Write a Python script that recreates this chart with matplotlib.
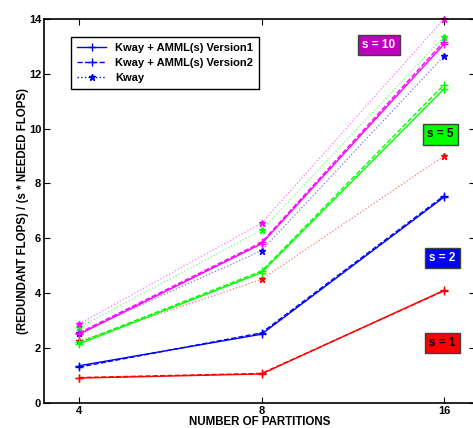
import matplotlib
matplotlib.use('Agg')
from matplotlib import pyplot as plt

plt.rcParams['font.family'] = ['Liberation Sans', 'DejaVu Sans']
plt.rcParams['font.weight'] = 'bold'

partitions = [4, 8, 16]

# Kway + AMML(s) Version1 (solid)
v1_s1 = [0.90, 1.05, 4.10]
v1_s2 = [1.35, 2.50, 7.50]
v1_s5 = [2.15, 4.75, 11.45]
v1_s10 = [2.50, 5.80, 13.08]

# Kway + AMML(s) Version2 (dashed)
v2_s1 = [0.92, 1.07, 4.08]
v2_s2 = [1.30, 2.55, 7.55]
v2_s5 = [2.20, 4.80, 11.60]
v2_s10 = [2.55, 5.85, 13.18]

# Kway (dotted)
kw_s1 = [2.25, 4.50, 9.00]
kw_s2 = [2.55, 5.55, 12.65]
kw_s5 = [2.75, 6.30, 13.35]
kw_s10 = [2.88, 6.55, 14.00]

colors = ['#ff0000', '#0000ff', '#00ff00', '#ff00ff']
v1 = [v1_s1, v1_s2, v1_s5, v1_s10]
v2 = [v2_s1, v2_s2, v2_s5, v2_s10]
kw = [kw_s1, kw_s2, kw_s5, kw_s10]

fig = plt.figure(figsize=(4.73, 4.28), dpi=100)
ax = fig.add_axes([0.093, 0.059, 0.911, 0.8965])

for c, a, b, k in zip(colors, v1, v2, kw):
    ax.plot(partitions, a, '-', color=c, marker='+', markersize=6, lw=1)
    ax.plot(partitions, b, '--', color=c, marker='+', markersize=6, lw=1)
    ax.plot(partitions, k, ':', color=c, lw=0.9, alpha=0.55, clip_on=False)
    ax.plot(partitions, k, ' ', color=c, marker='*', markersize=4.5, clip_on=False)

# legend entries (blue, as in the original)
h1, = ax.plot([], [], '-', color='#0000ff', marker='+', markersize=6, lw=1)
h2, = ax.plot([], [], '--', color='#0000ff', marker='+', markersize=6, lw=1)
h3, = ax.plot([], [], ':', color='#0000ff', marker='*', markersize=4.5, lw=1)
leg = ax.legend([h1, h2, h3],
                ['Kway + AMML(s) Version1', 'Kway + AMML(s) Version2', 'Kway'],
                loc='upper left', bbox_to_anchor=(0.063, 0.953), borderaxespad=0,
                fancybox=False, edgecolor='black', framealpha=1,
                prop={'size': 8, 'weight': 'bold'}, handlelength=2.6,
                labelspacing=0.45, borderpad=0.55)
leg.get_frame().set_linewidth(1)

labels = [('s = 10', 12.5, 13.04, '#bf00bf', 'white'),
          ('s = 5', 15.8, 9.79, '#00ff00', 'black'),
          ('s = 2', 15.9, 5.28, '#0000ff', 'white'),
          ('s = 1', 15.9, 2.18, '#ff0000', 'black')]
for txt, x, y, fc, tc in labels:
    ax.text(x, y, txt, ha='center', va='center', fontsize=8.5, fontweight='bold',
            color=tc, bbox=dict(boxstyle='square,pad=0.35', fc=fc, ec='#404040', lw=1))

ax.set_xscale('log', base=2)
ax.set_xlim(3.5, 18)
ax.set_ylim(0, 14)
ax.set_xticks(partitions)
ax.set_xticklabels(['4', '8', '16'])
ax.minorticks_off()
ax.set_yticks(range(0, 15, 2))
ax.tick_params(direction='in', top=True, right=True, labelsize=8, length=4, width=0.8, pad=2)
for lab in ax.get_xticklabels() + ax.get_yticklabels():
    lab.set_fontweight('bold')
for sp in ax.spines.values():
    sp.set_linewidth(1.2)

ax.set_xlabel('NUMBER OF PARTITIONS', fontsize=8.3, fontweight='bold', labelpad=0)
ax.set_ylabel('(REDUNDANT FLOPS) / (s * NEEDED FLOPS)', fontsize=8.3, fontweight='bold', labelpad=0)

fig.savefig('out.png', dpi=100)
